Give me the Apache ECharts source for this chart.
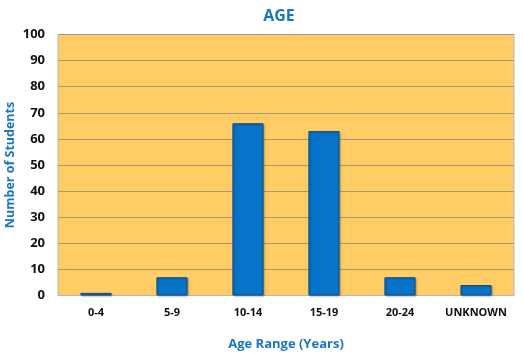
<!DOCTYPE html>
<html>
<head>
<meta charset="utf-8">
<script src="https://cdn.jsdelivr.net/npm/echarts@6/dist/echarts.min.js"></script>
<style>
  html, body { margin: 0; padding: 0; background: #fff; }
  #chart { width: 523px; height: 354px; }
</style>
</head>
<body>
<div id="chart"></div>
<script>
const categories = ['0-4', '5-9', '10-14', '15-19', '20-24', 'UNKNOWN']
const students = [1, 7, 66, 63, 7, 4]

const chart = echarts.init(document.getElementById('chart'), undefined, { renderer: 'canvas' })

const blue = '#1a75c4'
const font = '"Open Sans", Lato, sans-serif'

chart.setOption({
  animation: false,
  title: {
    text: 'AGE',
    left: 274,
    textAlign: 'center',
    top: 3,
    textStyle: { color: blue, fontSize: 16, fontWeight: 'bold', fontFamily: font },
  },
  grid: {
    left: 58, right: 9, top: 34.5, bottom: 58.5,
    outerBoundsMode: 'none',
    containLabel: false,
    show: true,
    backgroundColor: '#FFCC66',
    borderColor: '#b8b8b8',
    borderWidth: 1,
  },
  xAxis: {
    type: 'category',
    data: categories,
    name: 'Age Range (Years)',
    nameLocation: 'middle',
    nameGap: 42,
    nameMoveOverlap: false,
    nameTextStyle: { color: blue, fontSize: 13, fontWeight: 'bold', fontFamily: font },
    axisLine: { lineStyle: { color: '#b8b8b8' } },
    axisTick: { show: false },
    axisLabel: { interval: 0, color: '#111', fontSize: 11, fontWeight: 'bold', fontFamily: font, margin: 12 },
  },
  yAxis: {
    type: 'value',
    min: 0,
    max: 100,
    interval: 10,
    name: 'Number of Students',
    nameLocation: 'middle',
    nameGap: 41,
    nameMoveOverlap: false,
    nameTextStyle: { color: blue, fontSize: 12.5, fontWeight: 'bold', fontFamily: font },
    axisLine: { show: false },
    axisTick: { show: false },
    axisLabel: { color: '#111', fontSize: 13, fontWeight: 'bold', fontFamily: font, margin: 13 },
    splitLine: { lineStyle: { color: '#a89a78', width: 1 } },
  },
  series: [
    {
      type: 'bar',
      data: students,
      barWidth: '41%',
      itemStyle: {
        color: '#0874c8',
        borderColor: '#0b4f8c',
        borderWidth: 1,
        shadowColor: 'rgba(0,0,0,0.25)',
        shadowBlur: 2,
        shadowOffsetX: 1,
        shadowOffsetY: 1,
      },
    },
  ],
})
</script>
</body>
</html>
